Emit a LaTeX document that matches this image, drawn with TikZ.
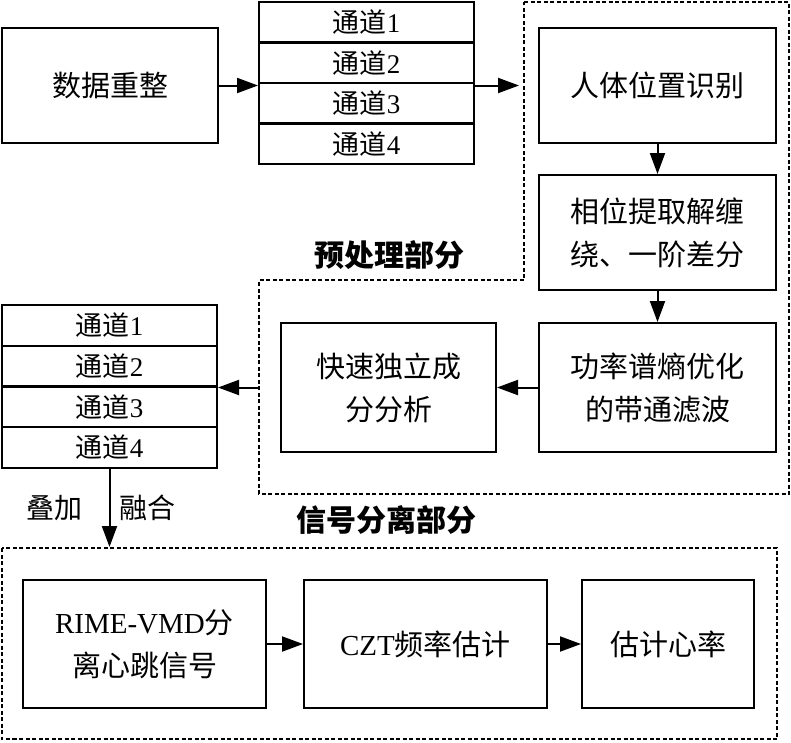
\documentclass[tikz,border=0pt]{standalone}
\usepackage{fontspec}
\setmainfont{Liberation Serif}
\newfontfamily\cjk{Noto Sans CJK SC}
\usetikzlibrary{arrows.meta}
\begin{document}
\begin{tikzpicture}[x=1pt,y=-1pt,
 box/.style={draw,line width=2pt,inner sep=0pt,align=center,font=\fontsize{29}{43}\selectfont\cjk},
 chan/.style={draw,line width=2pt,inner sep=0pt,minimum width=215pt,minimum height=40.6pt,font=\fontsize{27}{30}\selectfont},
 arr/.style={line width=2pt,-{Triangle[length=21pt,width=15pt]}},
 region/.style={line width=2pt,dash pattern=on 4pt off 2.5pt},
 title/.style={font=\fontsize{30}{36}\selectfont\cjk\bfseries},
 lab/.style={font=\fontsize{28}{34}\selectfont\cjk}]
\useasboundingbox (0,0) rectangle (791,742);
% regions
\draw[region] (524,2) -- (789,2) -- (789,494) -- (259,494) -- (259,280) -- (524,280) -- cycle;
\draw[region] (2,548) rectangle (777,739);
\node[title] (t1) at (389,255) {预处理部分};
\node[title] (t2) at (386,520) {信号分离部分};
% top left
\node[box,minimum width=216pt,minimum height=115pt] (data) at (110,85.5) {数据重整};
\node[chan] (c11) at (366.5,22.25) {{\cjk 通道}1};
\node[chan] (c12) at (366.5,62.75) {{\cjk 通道}2};
\node[chan] (c13) at (366.5,103.25) {{\cjk 通道}3};
\node[chan] (c14) at (366.5,143.75) {{\cjk 通道}4};
% preprocessing
\node[box,minimum width=237pt,minimum height=115pt] (pos) at (657.5,85.5) {人体位置识别};
\node[box,minimum width=237pt,minimum height=115pt] (phase) at (657.5,232.5) {相位提取解缠\\绕、一阶差分};
\node[box,minimum width=237pt,minimum height=129pt] (filt) at (657.5,387.5) {功率谱熵优化\\的带通滤波};
\node[box,minimum width=215pt,minimum height=129pt] (ica) at (388.5,387.5) {快速独立成\\分分析};
% second stack
\node[chan] (c21) at (109.5,325.4) {{\cjk 通道}1};
\node[chan] (c22) at (109.5,366.1) {{\cjk 通道}2};
\node[chan] (c23) at (109.5,406.8) {{\cjk 通道}3};
\node[chan] (c24) at (109.5,447.4) {{\cjk 通道}4};
\node[lab] (l1) at (54,508) {叠加};
\node[lab] (l2) at (147,508) {融合};
% bottom
\node[box,minimum width=243pt,minimum height=128pt] (rime) at (144.5,644) {{\rmfamily RIME-VMD}分\\离心跳信号};
\node[box,minimum width=243pt,minimum height=128pt] (czt) at (425.5,644) {{\rmfamily CZT}频率估计};
\node[box,minimum width=172pt,minimum height=128pt] (hr) at (668,644) {估计心率};
% coordinates
\coordinate (pin) at (524,85.5);
\coordinate (pout) at (259,387.5);
\coordinate (sin) at (109.5,548);
% connectors
\draw[arr] (data.east) -- (data.east -| c11.west);
\draw[arr,shorten >=5pt] (data.east -| c11.east) -- (pin);
\draw[arr] (pos.south) -- (phase.north);
\draw[arr] (phase.south) -- (filt.north);
\draw[arr] (filt.west) -- (ica.east);
\draw[arr] (pout) -- (pout -| c22.east);
\draw[arr,shorten >=1pt] (c24.south) -- (sin);
\draw[arr] (rime.east) -- (czt.west);
\draw[arr] (czt.east) -- (hr.west);
\end{tikzpicture}
\end{document}
